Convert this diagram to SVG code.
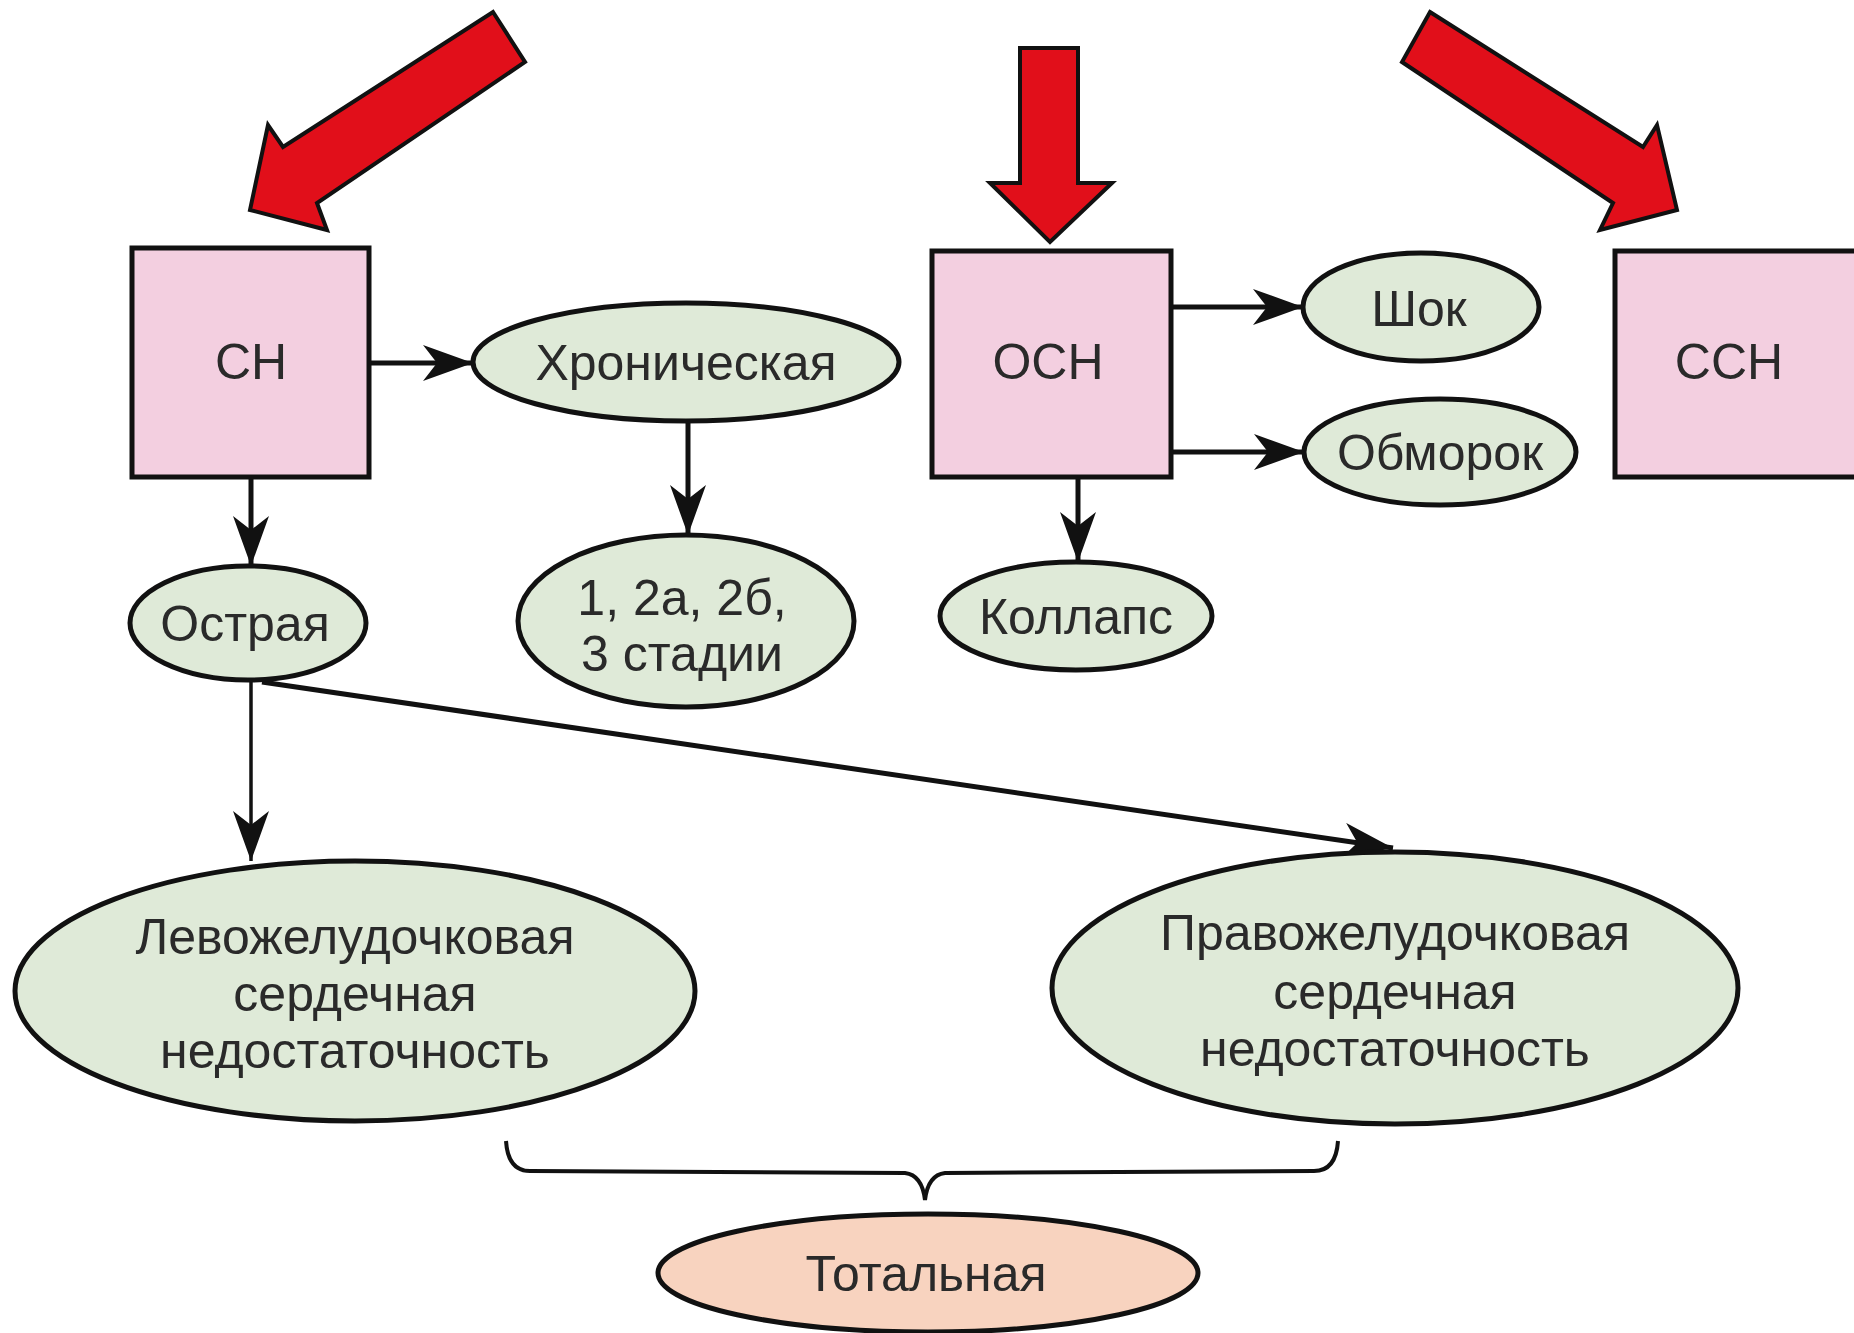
<svg xmlns="http://www.w3.org/2000/svg" width="1854" height="1333" viewBox="0 0 1854 1333">
<style>
.box{fill:#f3cfe0;stroke:#111;stroke-width:5}
.ell{fill:#dfead8;stroke:#111;stroke-width:5}
.tot{fill:#f8d3bf;stroke:#111;stroke-width:5}
.t{font-family:"Liberation Sans",Arial,sans-serif;font-size:50px;fill:#2a2a2a;text-anchor:middle}
.c{stroke:#111;stroke-width:5;fill:none}
.red{fill:#e10f1a;stroke:#111;stroke-width:4;stroke-linejoin:miter}
</style>
<defs>
<marker id="ah" markerUnits="userSpaceOnUse" viewBox="0 0 50 36" refX="50" refY="18" markerWidth="50" markerHeight="36" orient="auto">
<path d="M0,0 L50,18 L0,36 L14,18 Z" fill="#111"/>
</marker>
</defs>
<rect width="1854" height="1333" fill="#fff"/>
<g id="red-arrows">
<polygon class="red" points="493,12 525,62 317,203 327,230 250,210 268,125 283,147"/>
<polygon class="red" points="1020,48 1078,48 1078,183 1112,183 1050,242 990,183 1020,183"/>
<polygon class="red" points="1430,12 1643,147 1657,125 1677,210 1600,230 1613,203 1402,62"/>
</g>
<g id="connectors">
<line class="c" x1="369" y1="363" x2="473" y2="363" marker-end="url(#ah)"/>
<line class="c" x1="688" y1="421" x2="688" y2="535" marker-end="url(#ah)"/>
<line class="c" x1="251" y1="477" x2="251" y2="566" marker-end="url(#ah)"/>
<line class="c" x1="1171" y1="307" x2="1303" y2="307" marker-end="url(#ah)"/>
<line class="c" x1="1171" y1="452" x2="1304" y2="452" marker-end="url(#ah)"/>
<line class="c" x1="1078" y1="477" x2="1078" y2="562" marker-end="url(#ah)"/>
<line class="c" style="stroke-width:3.5" x1="251" y1="682" x2="251" y2="861" marker-end="url(#ah)"/>
<line class="c" x1="262" y1="682" x2="1393" y2="848" marker-end="url(#ah)"/>
<path class="c" style="stroke-width:4" d="M506,1141 Q508,1171 530,1171 L905,1173 Q922,1175 925,1200 Q928,1175 945,1173 L1314,1171 Q1336,1171 1338,1141"/>
</g>
<g id="n-sn"><rect class="box" x="132" y="248" width="237" height="229"/><text class="t" x="251" y="379">СН</text></g>
<g id="n-osn"><rect class="box" x="932" y="251" width="239" height="226"/><text class="t" x="1048" y="379">ОСН</text></g>
<g id="n-ssn"><rect class="box" x="1615" y="251" width="260" height="226"/><text class="t" x="1729" y="379">ССН</text></g>
<g id="n-chron"><ellipse class="ell" cx="686" cy="362" rx="213" ry="59"/><text class="t" x="686" y="380">Хроническая</text></g>
<g id="n-stages"><ellipse class="ell" cx="686" cy="621" rx="168" ry="86"/><text class="t" x="682" y="615">1, 2а, 2б,</text><text class="t" x="682" y="671">3 стадии</text></g>
<g id="n-acute"><ellipse class="ell" cx="248" cy="623" rx="118" ry="57"/><text class="t" x="245" y="641">Острая</text></g>
<g id="n-shock"><ellipse class="ell" cx="1421" cy="307" rx="118" ry="54"/><text class="t" x="1419" y="326">Шок</text></g>
<g id="n-faint"><ellipse class="ell" cx="1440" cy="452" rx="136" ry="53"/><text class="t" x="1440" y="470">Обморок</text></g>
<g id="n-collapse"><ellipse class="ell" cx="1076" cy="616" rx="136" ry="54"/><text class="t" x="1076" y="634">Коллапс</text></g>
<g id="n-left"><ellipse class="ell" cx="355" cy="991" rx="340" ry="130"/><text class="t" x="355" y="954">Левожелудочковая</text><text class="t" x="355" y="1011">сердечная</text><text class="t" x="355" y="1068">недостаточность</text></g>
<g id="n-right"><ellipse class="ell" cx="1395" cy="988" rx="343" ry="136"/><text class="t" x="1395" y="950">Правожелудочковая</text><text class="t" x="1395" y="1009">сердечная</text><text class="t" x="1395" y="1066">недостаточность</text></g>
<g id="n-total"><ellipse class="tot" cx="928" cy="1273" rx="270" ry="59"/><text class="t" x="926" y="1291">Тотальная</text></g>
</svg>
